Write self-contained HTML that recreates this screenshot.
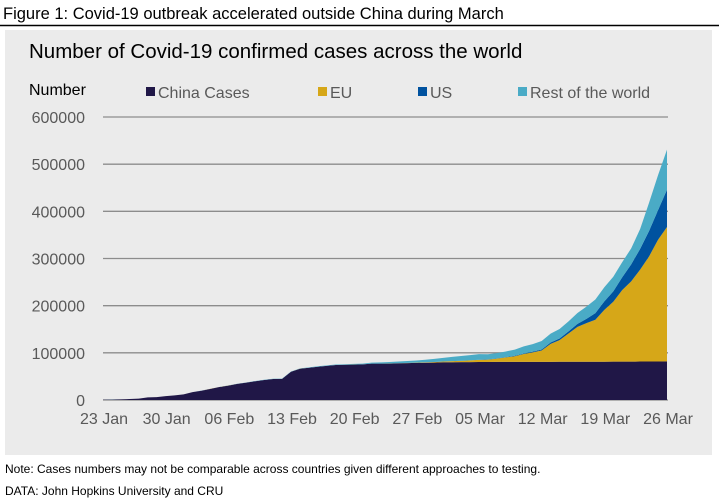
<!DOCTYPE html>
<html><head><meta charset="utf-8"><style>
body{margin:0;width:719px;height:501px;background:#fff;overflow:hidden;font-family:"Liberation Sans",Arial,sans-serif}
svg{display:block}
</style></head><body>
<svg id="c" width="719" height="501">
<text x="3" y="19" font-size="16.5" fill="#000">Figure 1: Covid-19 outbreak accelerated outside China during March</text>
<line x1="0" y1="25.5" x2="719" y2="25.5" stroke="#000" stroke-width="1.5"/>
<rect x="5" y="30" width="707" height="425" fill="#ebebeb"/>
<text x="29" y="58" font-size="20.5" fill="#000">Number of Covid-19 confirmed cases across the world</text>
<text x="29" y="95" font-size="16" fill="#000">Number</text>
<g id="legend"></g>
<g id="grid"></g><g id="areas"></g><g id="labels"></g>
<text x="5" y="473" font-size="12" fill="#000">Note: Cases numbers may not be comparable across countries given different approaches to testing.</text>
<text x="5" y="495" font-size="12" fill="#000">DATA: John Hopkins University and CRU</text>
</svg>
<script>
const dateLabels=["23 Jan","30 Jan","06 Feb","13 Feb","20 Feb","27 Feb","05 Mar","12 Mar","19 Mar","26 Mar"];
const yTicks=[0,100000,200000,300000,400000,500000,600000];
const seriesNames=["China Cases","EU","US","Rest of the world"];
const seriesColors=["#201747","#d6a718","#00529f","#4aabc6"];
// daily values 23 Jan .. 26 Mar (thousands)
const china=[0.64,0.92,1.41,2.08,2.88,5.51,6.09,8.14,9.80,11.89,16.63,19.72,23.71,27.44,30.59,34.11,36.81,39.83,42.35,44.39,44.76,59.90,66.36,68.41,70.51,72.43,74.21,74.62,75.08,75.55,77.00,77.02,77.24,77.75,78.17,78.60,78.93,79.36,79.93,80.14,80.26,80.39,80.54,80.69,80.77,80.82,80.86,80.89,80.92,80.93,80.95,80.98,81.00,81.03,81.06,81.10,81.16,81.25,81.31,81.44,81.50,81.59,81.66,81.78];
const eu=[0,0,0,0,0,0.003,0.004,0.005,0.01,0.012,0.015,0.02,0.022,0.025,0.028,0.03,0.032,0.035,0.038,0.04,0.042,0.045,0.046,0.046,0.047,0.047,0.047,0.047,0.048,0.05,0.1,0.15,0.2,0.3,0.4,0.6,0.9,1.2,1.7,2.2,2.8,3.5,4.5,5,7,9.5,12,16.5,20,24,38,46,60,74,82,89,110,127,152,170,195,223,258,285];
const us=[0.001,0.002,0.002,0.005,0.005,0.005,0.005,0.006,0.007,0.008,0.011,0.011,0.011,0.012,0.012,0.012,0.012,0.012,0.012,0.013,0.013,0.014,0.015,0.015,0.015,0.015,0.015,0.015,0.035,0.035,0.035,0.053,0.053,0.057,0.06,0.06,0.068,0.075,0.1,0.12,0.15,0.2,0.3,0.4,0.5,0.6,1,1.3,1.6,2.2,2.9,3.5,4.6,6.4,9,14,18,22,27,36,44,54,63,79];
const row=[0.01,0.02,0.03,0.04,0.05,0.06,0.07,0.08,0.1,0.12,0.14,0.16,0.18,0.2,0.25,0.3,0.35,0.4,0.45,0.5,0.5,0.6,0.7,0.8,0.9,1.0,1.1,1.2,1.3,1.5,2,2.5,3,3.5,4,4.5,5.5,6.5,7.5,9,10,11,12,11,11,12,13,15,16,18,19,20,21,23,26,29,30,31,32,34,42,60,74,85];
const series=[china,eu,us,row];
const NS="http://www.w3.org/2000/svg";
const X0=103,X1=667,Y0=400,Y1=117;
const N=china.length;
const xs=i=>X0+(X1-X0)*i/63;
const ys=v=>Y0-(Y0-Y1)*v/600000;
const el=(t,a,p)=>{const e=document.createElementNS(NS,t);for(const k in a)e.setAttribute(k,a[k]);p.appendChild(e);return e;};
const grid=document.getElementById('grid'),lab=document.getElementById('labels'),areas=document.getElementById('areas'),leg=document.getElementById('legend');
yTicks.forEach(v=>{
 const l=el('line',{x1:X0,x2:X1+1,y1:ys(v),y2:ys(v),stroke:'#8c8c8c','stroke-width':1.3},grid);
 
 
 const t=el('text',{x:85,y:ys(v)+6,'font-size':16,fill:'#595959','text-anchor':'end'},lab);
 t.textContent=v;
 
 
});
dateLabels.forEach((d,i)=>{
 const t=el('text',{x:xs(i*7)+1,y:424,'font-size':16,fill:'#595959','text-anchor':'middle'},lab);
 t.textContent=d;
 
 
});
let base=new Array(N).fill(0);
series.forEach((s,k)=>{
 const top=base.map((b,i)=>b+(s[i]||0)*1000);
 let d='M'+top.map((v,i)=>xs(i).toFixed(2)+','+ys(v).toFixed(2)).join('L');
 for(let i=N-1;i>=0;i--)d+='L'+xs(i).toFixed(2)+','+ys(base[i]).toFixed(2);
 d+='Z';
 const p=el('path',{d:d,fill:seriesColors[k]},areas);
 
 
 base=top;
});
const lx=[146,318,418,518];
seriesNames.forEach((n,k)=>{
 const g=el('g',{},leg);
 
 
 el('rect',{x:lx[k],y:87,width:9,height:9,fill:seriesColors[k]},g);
 const t=el('text',{x:lx[k]+12,y:98,'font-size':16,fill:'#595959'},g);
 t.textContent=n;
});
</script>
</body></html>
